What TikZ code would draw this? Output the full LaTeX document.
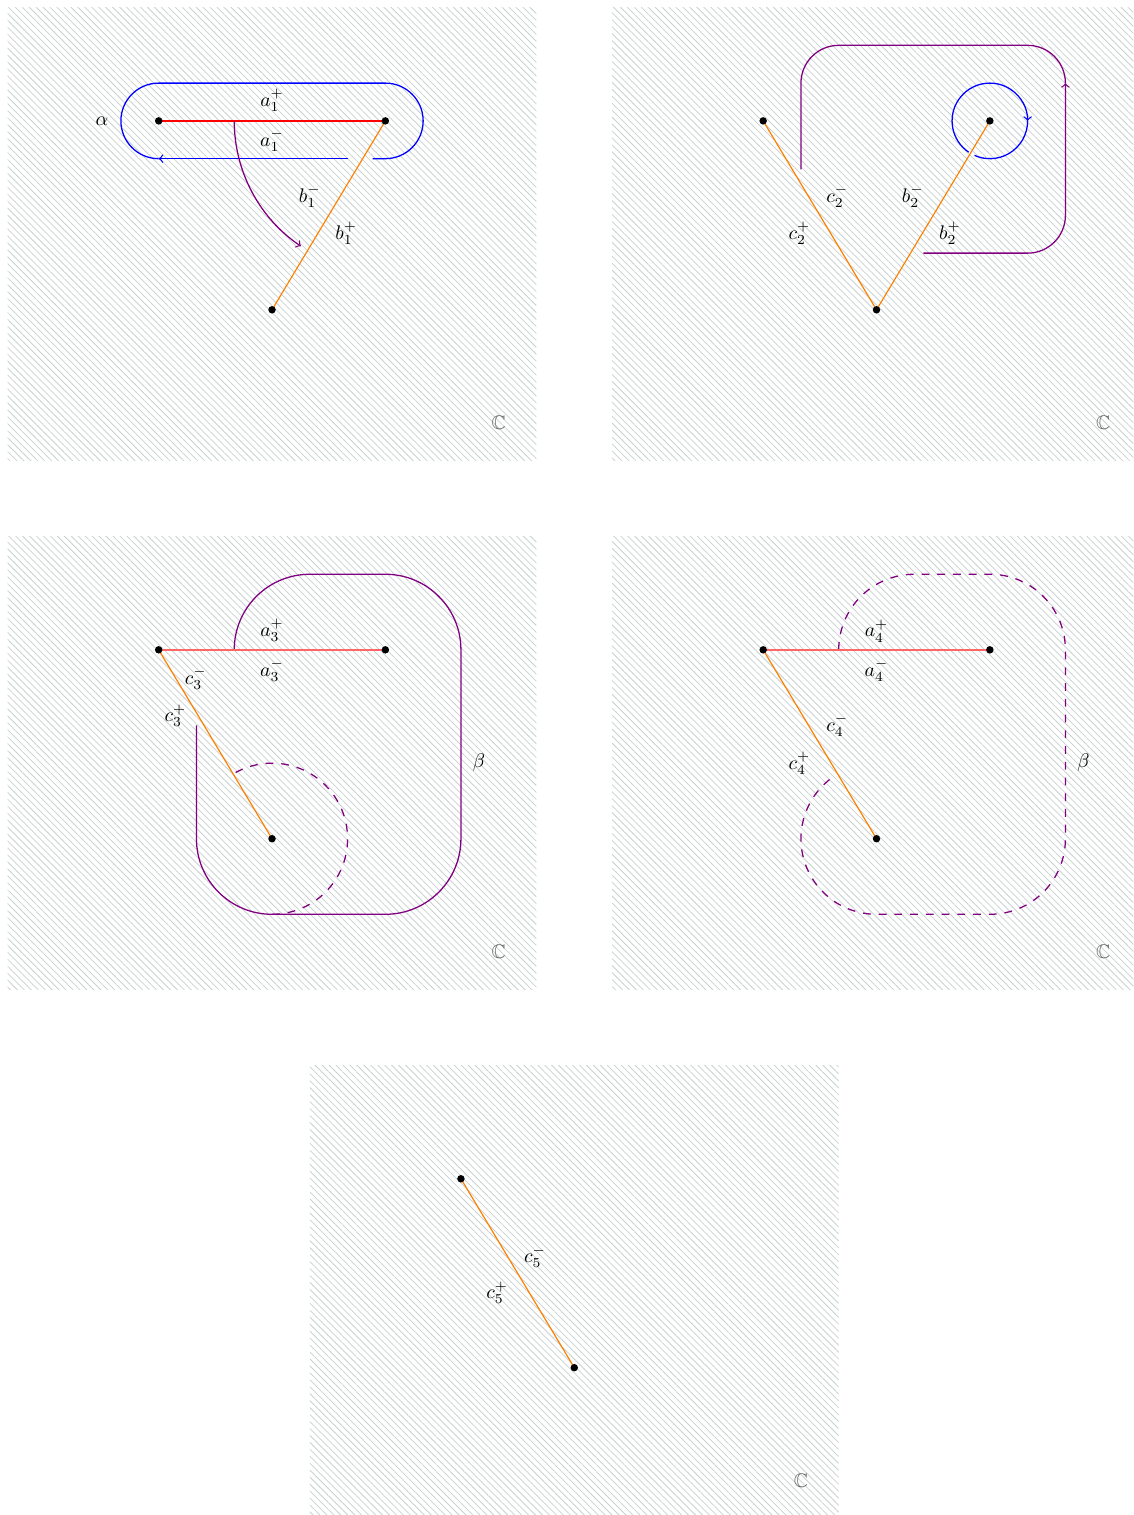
\documentclass[tikz,border=0pt]{standalone}
\usepackage{amssymb}
\usetikzlibrary{patterns.meta}
\definecolor{hatch}{RGB}{200,208,208}
\begin{document}
\begin{tikzpicture}[x=1.35cm,y=1.35cm,
  panelbg/.style={pattern={Lines[angle=-45,distance=2.5pt,line width=0.4pt]},pattern color=hatch},
  dot/.style={circle,fill=black,inner sep=0pt,minimum size=3.8pt},
  seg/.style={orange,line width=0.6pt},
  redseg/.style={red,line width=0.8pt},
  redpale/.style={red!60,line width=1.3pt},
  pur/.style={violet,line width=0.65pt},
  blu/.style={blue,line width=0.65pt},
  dsh/.style={pur,dash pattern=on 4pt off 4pt},
  lbl/.style={inner sep=1pt},
  cpx/.style={black!60,inner sep=1pt},
  >=to]

\useasboundingbox (-3.6,2.6) rectangle (11.4,-17.45);
\clip (-3.6,2.6) rectangle (11.4,-17.45);

% ---------------- Panel 1 ----------------
\begin{scope}
  \fill[panelbg] (-3.5,-3.5) rectangle (3.5,2.5);
  \coordinate (A1) at (-1.5,1);
  \coordinate (B1) at (1.5,1);
  \coordinate (C1) at (0,-1.5);
  \draw[blu,->] (1.0,0.5) -- (-1.5,0.5);
  \draw[blu] (-1.5,0.5) arc[start angle=270,end angle=90,radius=0.5] -- (1.5,1.5)
     arc[start angle=90,end angle=-90,radius=0.5] -- (1.33,0.5);
  \draw[redseg] (A1) -- (B1);
  \draw[seg] (B1) -- (C1);
  \draw[pur,->] (-0.5,1) arc[start angle=180,end angle=236,radius=2];
  \node[dot] (dA1) at (A1) {};
  \node[dot] (dB1) at (B1) {};
  \node[dot] (dC1) at (C1) {};
  \node[lbl] (lal) at (-2.25,1) {$\alpha$};
  \node[lbl] (la1p) at (0,1.27) {$a_1^+$};
  \node[lbl] (la1m) at (0,0.74) {$a_1^-$};
  \node[lbl] (lb1m) at (0.5,0) {$b_1^-$};
  \node[lbl] (lb1p) at (0.98,-0.49) {$b_1^+$};
  \node[cpx] (lC1) at (3,-3) {$\mathbb{C}$};
\end{scope}

% ---------------- Panel 2 ----------------
\begin{scope}[shift={(8,0)}]
  \fill[panelbg] (-3.5,-3.5) rectangle (3.5,2.5);
  \coordinate (A2) at (-1.5,1);
  \coordinate (B2) at (1.5,1);
  \coordinate (C2) at (0,-1.5);
  \draw[seg] (A2) -- (C2) -- (B2);
  \draw[blu,->] (1.2204,0.5855) arc[start angle=236,end angle=0,radius=0.5];
  \draw[blu] (2,1) arc[start angle=0,end angle=-114,radius=0.5];
  \draw[pur,->] (0.62,-0.75) -- (2,-0.75) arc[start angle=-90,end angle=0,radius=0.5] -- (2.5,1.5);
  \draw[pur] (2.5,1.5) arc[start angle=0,end angle=90,radius=0.5] -- (-0.5,2)
     arc[start angle=90,end angle=180,radius=0.5] -- (-1,0.36);
  \node[dot] (dA2) at (A2) {};
  \node[dot] (dB2) at (B2) {};
  \node[dot] (dC2) at (C2) {};
  \node[lbl] (lc2m) at (-0.52,0) {$c_2^-$};
  \node[lbl] (lc2p) at (-1.02,-0.49) {$c_2^+$};
  \node[lbl] (lb2m) at (0.48,0) {$b_2^-$};
  \node[lbl] (lb2p) at (0.97,-0.49) {$b_2^+$};
  \node[cpx] (lC2) at (3,-3) {$\mathbb{C}$};
\end{scope}

% ---------------- Panel 3 ----------------
\begin{scope}[shift={(0,-7)}]
  \fill[panelbg] (-3.5,-3.5) rectangle (3.5,2.5);
  \coordinate (A3) at (-1.5,1);
  \coordinate (B3) at (1.5,1);
  \coordinate (C3) at (0,-1.5);
  \draw[pur] (-0.5,1) arc[start angle=180,end angle=90,radius=1] -- (1.5,2)
     arc[start angle=90,end angle=0,radius=1] -- (2.5,-1.5)
     arc[start angle=0,end angle=-90,radius=1] -- (0,-2.5)
     arc[start angle=-90,end angle=-180,radius=1] -- (-1,0);
  \draw[dsh] (0,-2.5) arc[start angle=-90,end angle=121,radius=1];
  \draw[redpale] (A3) -- (B3);
  \draw[seg] (A3) -- (C3);
  \node[dot] (dA3) at (A3) {};
  \node[dot] (dB3) at (B3) {};
  \node[dot] (dC3) at (C3) {};
  \node[lbl] (la3p) at (0,1.26) {$a_3^+$};
  \node[lbl] (la3m) at (0,0.73) {$a_3^-$};
  \node[lbl] (lc3m) at (-1.01,0.62) {$c_3^-$};
  \node[lbl] (lc3p) at (-1.28,0.13) {$c_3^+$};
  \node[lbl] (lbe3) at (2.74,-0.49) {$\beta$};
  \node[cpx] (lC3) at (3,-3) {$\mathbb{C}$};
\end{scope}

% ---------------- Panel 4 ----------------
\begin{scope}[shift={(8,-7)}]
  \fill[panelbg] (-3.5,-3.5) rectangle (3.5,2.5);
  \coordinate (A4) at (-1.5,1);
  \coordinate (B4) at (1.5,1);
  \coordinate (C4) at (0,-1.5);
  \draw[dsh] (-0.5,1) arc[start angle=180,end angle=90,radius=1] -- (1.5,2)
     arc[start angle=90,end angle=0,radius=1] -- (2.5,-1.5)
     arc[start angle=0,end angle=-90,radius=1] -- (0,-2.5)
     arc[start angle=-90,end angle=-234,radius=1];
  \draw[redpale] (A4) -- (B4);
  \draw[seg] (A4) -- (C4);
  \node[dot] (dA4) at (A4) {};
  \node[dot] (dB4) at (B4) {};
  \node[dot] (dC4) at (C4) {};
  \node[lbl] (la4p) at (0,1.25) {$a_4^+$};
  \node[lbl] (la4m) at (0,0.73) {$a_4^-$};
  \node[lbl] (lc4m) at (-0.52,0) {$c_4^-$};
  \node[lbl] (lc4p) at (-1.02,-0.5) {$c_4^+$};
  \node[lbl] (lbe4) at (2.74,-0.49) {$\beta$};
  \node[cpx] (lC4) at (3,-3) {$\mathbb{C}$};
\end{scope}

% ---------------- Panel 5 ----------------
\begin{scope}[shift={(4,-14)}]
  \fill[panelbg] (-3.5,-3.5) rectangle (3.5,2.5);
  \coordinate (A5) at (-1.5,1);
  \coordinate (C5) at (0,-1.5);
  \draw[seg] (A5) -- (C5);
  \node[dot] (dA5) at (A5) {};
  \node[dot] (dC5) at (C5) {};
  \node[lbl] (lc5m) at (-0.52,-0.03) {$c_5^-$};
  \node[lbl] (lc5p) at (-1.02,-0.51) {$c_5^+$};
  \node[cpx] (lC5) at (3,-3) {$\mathbb{C}$};
\end{scope}
\end{tikzpicture}
\end{document}
